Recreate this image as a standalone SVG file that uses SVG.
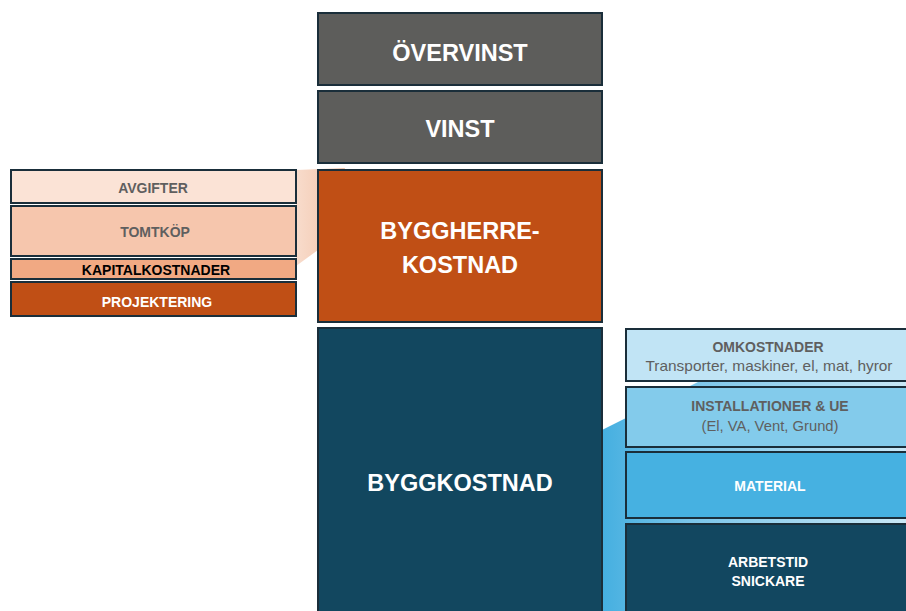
<svg xmlns="http://www.w3.org/2000/svg" width="906" height="611" viewBox="0 0 906 611">
<defs>
<linearGradient id="gBlue" x1="0" y1="0" x2="1" y2="0">
<stop offset="0" stop-color="#45afe0"/>
<stop offset="0.3" stop-color="#7cc6ea"/>
<stop offset="1" stop-color="#c9e8f6"/>
</linearGradient>
<linearGradient id="gPeach" x1="0" y1="0" x2="1" y2="0">
<stop offset="0" stop-color="#f8dccc"/>
<stop offset="1" stop-color="#f1c1a6"/>
</linearGradient>
<style>
.box{stroke:#1a2e3a;stroke-width:2}
.t{font-family:"Liberation Sans",Arial,sans-serif;font-weight:bold;text-anchor:middle}
.r{font-family:"Liberation Sans",Arial,sans-serif;text-anchor:middle}
.big{font-size:23.5px;fill:#ffffff}
.sm{font-size:14px}
</style>
</defs>
<rect width="906" height="611" fill="#ffffff"/>
<g id="connectors">
<polygon points="296,170 345,168 318,250 296,266" fill="url(#gPeach)"/>
<polygon points="602,430 700,381 906,381 906,611 602,611" fill="url(#gBlue)"/>
</g>
<g id="overvinst">
<rect class="box" x="318" y="13" width="284" height="72" fill="#5d5d5b"/>
<text class="t big" x="460" y="61">ÖVERVINST</text>
</g>
<g id="vinst">
<rect class="box" x="318" y="91" width="284" height="72" fill="#5d5d5b"/>
<text class="t big" x="460" y="137">VINST</text>
</g>
<g id="byggherrekostnad">
<rect class="box" x="318" y="170" width="284" height="152" fill="#c04f15"/>
<text class="t big" x="460" y="239">BYGGHERRE-</text>
<text class="t big" x="460" y="273">KOSTNAD</text>
</g>
<g id="byggkostnad">
<rect class="box" x="318" y="328" width="284" height="300" fill="#12475f"/>
<text class="t big" x="460" y="491">BYGGKOSTNAD</text>
</g>
<g id="avgifter">
<rect class="box" x="11" y="170" width="285" height="33" fill="#fbe3d6"/>
<text class="t sm" x="153" y="193" fill="#5f5f5f">AVGIFTER</text>
</g>
<g id="tomtkop">
<rect class="box" x="11" y="206" width="285" height="50" fill="#f6c6ad"/>
<text class="t sm" x="155" y="237" fill="#5f5f5f">TOMTKÖP</text>
</g>
<g id="kapitalkostnader">
<rect class="box" x="11" y="259" width="285" height="20" fill="#f1a983"/>
<text class="t sm" x="156" y="275" fill="#000000">KAPITALKOSTNADER</text>
</g>
<g id="projektering">
<rect class="box" x="11" y="282" width="285" height="34" fill="#c04f15"/>
<text class="t sm" x="157" y="307" fill="#ffffff">PROJEKTERING</text>
</g>
<g id="omkostnader">
<rect class="box" x="626" y="329" width="290" height="52" fill="#c1e4f5"/>
<text class="t sm" x="768" y="352" fill="#5f5f5f">OMKOSTNADER</text>
<text class="r" x="769" y="371" font-size="15" textLength="247" lengthAdjust="spacingAndGlyphs" fill="#5f5f5f">Transporter, maskiner, el, mat, hyror</text>
</g>
<g id="installationer">
<rect class="box" x="626" y="387" width="290" height="60" fill="#83cbeb"/>
<text class="t sm" x="770" y="411" fill="#5f5f5f">INSTALLATIONER &amp; UE</text>
<text class="r" x="770" y="431" font-size="14.8" fill="#5f5f5f">(El, VA, Vent, Grund)</text>
</g>
<g id="material">
<rect class="box" x="626" y="452" width="290" height="66" fill="#46b1e1"/>
<text class="t sm" x="770" y="491" fill="#ffffff">MATERIAL</text>
</g>
<g id="arbetstid">
<rect class="box" x="626" y="524" width="290" height="100" fill="#124760"/>
<text class="t sm" x="768" y="567" fill="#ffffff">ARBETSTID</text>
<text class="t sm" x="768" y="586" fill="#ffffff">SNICKARE</text>
</g>
</svg>
